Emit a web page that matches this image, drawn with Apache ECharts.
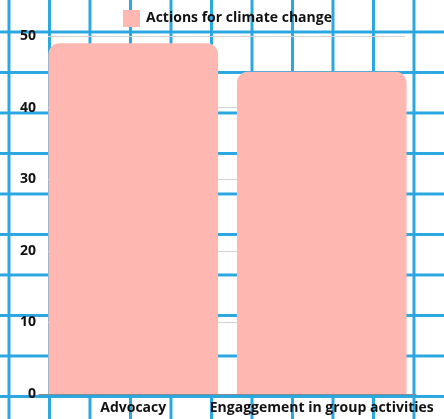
<!DOCTYPE html>
<html>
<head>
<meta charset="utf-8">
<script src="https://cdn.jsdelivr.net/npm/echarts@6/dist/echarts.min.js"></script>
<style>
  html, body { margin: 0; padding: 0; }
  #chart {
    width: 444px;
    height: 419px;
    background-color: #ffffff;
    /* graph-paper backdrop */
    background-image:
      linear-gradient(90deg, #2aa7e0 0, #2aa7e0 3px, transparent 3px),
      linear-gradient(180deg, #2aa7e0 0, #2aa7e0 3px, transparent 3px);
    background-size: 40.5px 40.5px, 40.5px 40.5px;
    background-position: 7.5px 0, 0 30.5px;
  }
</style>
</head>
<body>
<div id="chart"></div>
<script>
const categories = ['Advocacy', 'Engaggement in group activities'];
const seriesName = 'Actions for climate change';
const values = [49, 45];
const yTicks = { min: 0, max: 50, interval: 10 };

const font = '"Open Sans", "DejaVu Sans", sans-serif';
const chart = echarts.init(document.getElementById('chart'), null, { renderer: 'canvas' });

chart.setOption({
  backgroundColor: 'transparent',
  animation: false,
  legend: {
    top: 5,
    left: 118,
    itemWidth: 17,
    itemHeight: 17,
    icon: 'rect',
    textStyle: { fontFamily: font, fontSize: 14, fontWeight: 'bold', color: '#111', padding: [0, 0, 0, 1] },
    data: [seriesName]
  },
  grid: [
    { left: 39, right: 28, top: 36, bottom: 25 },
    { left: 48, right: 39, top: 36, bottom: 25 }
  ],
  xAxis: [
    {
      type: 'category',
      gridIndex: 0,
      data: categories,
      axisTick: { show: false },
      axisLine: { show: true, lineStyle: { color: '#8a8a8a', width: 1 } },
      axisLabel: {
        interval: 0,
        hideOverlap: false,
        fontFamily: font,
        fontSize: 14,
        fontWeight: 'bold',
        color: '#111',
        margin: 7
      }
    },
    {
      type: 'category',
      gridIndex: 1,
      data: categories,
      show: false
    }
  ],
  yAxis: [
    {
      type: 'value',
      gridIndex: 0,
      min: yTicks.min,
      max: yTicks.max,
      interval: yTicks.interval,
      axisLine: { show: false },
      axisTick: { show: false },
      splitLine: { show: false },
      axisLabel: { fontFamily: font, fontSize: 14, fontWeight: 'bold', color: '#111', margin: 3 }
    },
    {
      type: 'value',
      gridIndex: 1,
      min: yTicks.min,
      max: yTicks.max,
      interval: yTicks.interval,
      axisLine: { show: false },
      axisTick: { show: false },
      axisLabel: { show: false },
      splitLine: { show: true, lineStyle: { color: '#d4d4d4', width: 1 } }
    }
  ],
  series: [
    {
      name: seriesName,
      type: 'bar',
      xAxisIndex: 0,
      yAxisIndex: 0,
      data: values,
      barCategoryGap: '10%',
      itemStyle: { color: '#ffb8b1', borderRadius: [11, 11, 0, 0] },
      z: 3
    }
  ]
});
</script>
</body>
</html>
